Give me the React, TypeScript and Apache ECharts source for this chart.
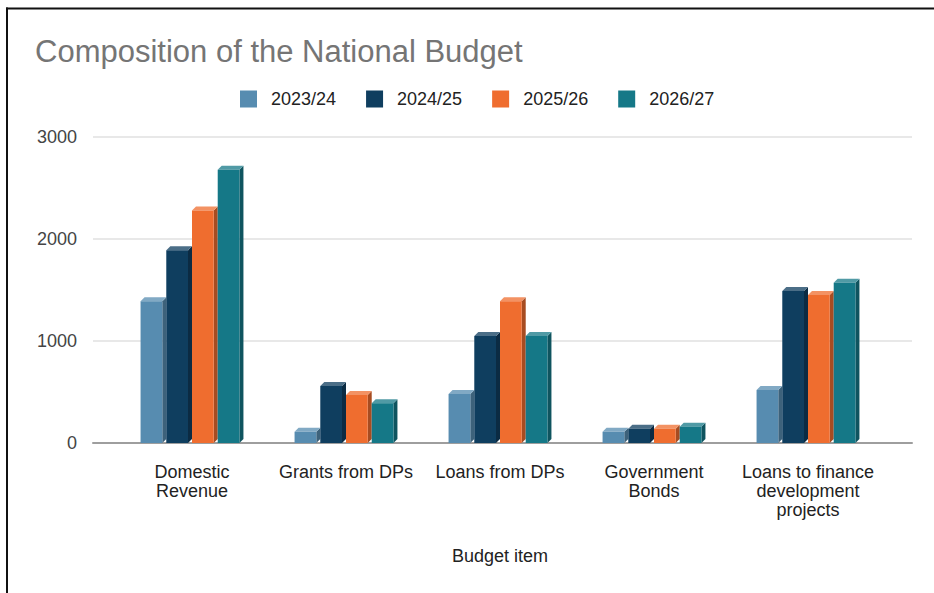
import React, { useEffect, useRef } from "react";
import * as echarts from "echarts";

const categories = [
  "Domestic\nRevenue",
  "Grants from DPs",
  "Loans from DPs",
  "Government\nBonds",
  "Loans to finance\ndevelopment\nprojects",
];
const seriesNames = ["2023/24", "2024/25", "2025/26", "2026/27"];
const values2023 = [1390, 110, 480, 110, 520];
const values2024 = [1890, 560, 1050, 140, 1490];
const values2025 = [2280, 470, 1390, 140, 1450];
const values2026 = [2680, 390, 1050, 160, 1570];
const yTicks = [0, 1000, 2000, 3000];

const colors = ["#578cb0", "#0f3e5f", "#ef6d2f", "#157887"];
const FONT = "'Liberation Sans', Arial, sans-serif";

function mix(hex: string, target: number, f: number) {
  const n = parseInt(hex.slice(1), 16);
  const r = (n >> 16) & 255, g = (n >> 8) & 255, b = n & 255;
  const m = (c: number) => Math.round(c + (target - c) * f);
  return `rgb(${m(r)},${m(g)},${m(b)})`;
}

function makeRender(idx: number, color: string) {
  const dark = mix(color, 0, 0.3);
  const light = mix(color, 255, 0.25);
  return (params: any, api: any) => {
    const cat = api.value(0);
    const val = api.value(1);
    const base = api.coord([cat, 0]);
    const top = api.coord([cat, val]);
    const band = api.size([1, 0])[0];
    const w = band * 0.167;
    const x0 = base[0] + (idx - 2) * w;
    const d = 4;
    const fw = w - d;
    const yT = top[1];
    const yB = base[1];
    return {
      type: "group",
      children: [
        {
          type: "polygon",
          shape: { points: [[x0 + fw, yT], [x0 + w, yT - d], [x0 + w, yB - d], [x0 + fw, yB]] },
          style: { fill: dark },
        },
        {
          type: "polygon",
          shape: { points: [[x0, yT], [x0 + d, yT - d], [x0 + w, yT - d], [x0 + fw, yT]] },
          style: { fill: light },
        },
        {
          type: "rect",
          shape: { x: x0, y: yT, width: fw, height: yB - yT },
          style: { fill: color },
        },
      ],
    };
  };
}

export default function App() {
  const ref = useRef<HTMLDivElement>(null);
  useEffect(() => {
    document.body.style.margin = "0";
    if (!ref.current) return;
    const chart = echarts.init(ref.current, undefined, { renderer: "svg" });
    const all = [values2023, values2024, values2025, values2026];
    chart.setOption({
      animation: false,
      backgroundColor: "#ffffff",
      title: {
        text: "Composition of the National Budget",
        left: 30,
        top: 31,
        textStyle: { fontFamily: FONT, fontSize: 31, fontWeight: "normal", color: "#757575" },
      },
      legend: {
        left: 235,
        top: 85,
        itemWidth: 17,
        itemHeight: 17,
        itemGap: 30,
        icon: "rect",
        data: seriesNames,
        textStyle: { fontFamily: FONT, fontSize: 18, color: "#222", padding: [0, 0, 0, 9] },
      },
      grid: [
        { left: 93, right: 22, top: 137, bottom: 150 },
        { left: 115, right: 49, top: 137, bottom: 150 },
      ],
      xAxis: [
        {
          type: "value",
          gridIndex: 0,
          min: 0,
          max: 1,
          axisLine: { show: true, lineStyle: { color: "#9e9e9e", width: 2 } },
          axisTick: { show: false },
          axisLabel: { show: false },
          splitLine: { show: false },
        },
        {
          type: "category",
          gridIndex: 1,
          data: categories,
          axisLine: { show: false },
          axisTick: { show: false },
          axisLabel: {
            interval: 0,
            margin: 19,
            fontFamily: FONT,
            fontSize: 18,
            lineHeight: 19,
            color: "#222",
          },
          name: "Budget item",
          nameLocation: "middle",
          nameGap: 104,
          nameTextStyle: { fontFamily: FONT, fontSize: 18, color: "#222" },
        },
      ],
      yAxis: [
        {
          type: "value",
          gridIndex: 0,
          min: yTicks[0],
          max: yTicks[yTicks.length - 1],
          interval: 1000,
          axisLine: { show: false },
          axisTick: { show: false },
          axisLabel: {
            margin: 16,
            fontFamily: FONT,
            fontSize: 18,
            color: "#444",
            formatter: (v: number) => String(v),
          },
          splitLine: { lineStyle: { color: "#e0e0e0", width: 1.5 } },
        },
        {
          type: "value",
          gridIndex: 1,
          min: yTicks[0],
          max: yTicks[yTicks.length - 1],
          show: false,
          splitLine: { show: false },
        },
      ],
      graphic: [
        { type: "line", shape: { x1: 7, y1: 7.5, x2: 7, y2: 593 }, style: { stroke: "#111", lineWidth: 2 } },
        { type: "line", shape: { x1: 6, y1: 8.5, x2: 934, y2: 8.5 }, style: { stroke: "#111", lineWidth: 2 } },
      ],
      series: seriesNames.map((name, i) => ({
        name,
        type: "custom",
        xAxisIndex: 1,
        yAxisIndex: 1,
        itemStyle: { color: colors[i] },
        renderItem: makeRender(i, colors[i]),
        encode: { x: 0, y: 1 },
        data: all[i].map((v, k) => [k, v]),
      })),
    });
    return () => chart.dispose();
  }, []);
  return <div ref={ref} style={{ width: 934, height: 593 }} />;
}
